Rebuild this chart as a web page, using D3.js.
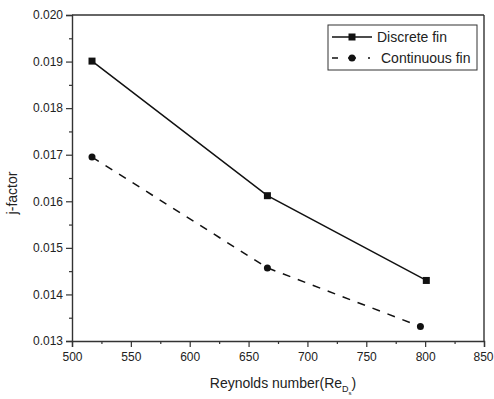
<!DOCTYPE html>
<html>
<head>
<meta charset="utf-8">
<script src="https://cdn.jsdelivr.net/npm/d3@7"></script>
<style>
  body { margin: 0; background: #fff; }
  text { font-family: "Liberation Sans", Arial, sans-serif; fill: #222; }
</style>
</head>
<body>
<div id="viz"></div>
<script>
// data
var seriesNames = ["Discrete fin", "Continuous fin"];
var discreteRe = [517, 666, 801];
var discreteJ = [0.01901, 0.01612, 0.0143];
var continuousRe = [517, 666, 796];
var continuousJ = [0.01695, 0.01457, 0.01331];
var xTicks = [500, 550, 600, 650, 700, 750, 800, 850];
var yTicks = [0.013, 0.014, 0.015, 0.016, 0.017, 0.018, 0.019, 0.020];

var W = 494, H = 399;
var margin = { top: 15, right: 10, bottom: 58, left: 72 },
  width = W - margin.left - margin.right,
  height = H - margin.top - margin.bottom;

var svg = d3.select("#viz").append("svg")
  .attr("width", W).attr("height", H);

var g = svg.append("g")
  .attr("transform", "translate(" + margin.left + "," + margin.top + ")");

var x = d3.scaleLinear().domain([500, 850]).range([0, width]);
var y = d3.scaleLinear().domain([0.013, 0.020]).range([height, 0]);

// minor ticks
var xMinor = d3.range(525, 850, 50);
var yMinor = d3.range(0.0135, 0.0200, 0.001);

g.append("g").attr("transform", "translate(0," + height + ")")
  .call(d3.axisBottom(x).tickValues(xMinor).tickSize(3).tickFormat(""))
  .call(s => s.select(".domain").remove());
g.append("g")
  .call(d3.axisLeft(y).tickValues(yMinor).tickSize(3).tickFormat(""))
  .call(s => s.select(".domain").remove());

var xAxis = g.append("g").attr("transform", "translate(0," + height + ")")
  .call(d3.axisBottom(x).tickValues(xTicks).tickSize(6).tickPadding(5).tickFormat(d3.format("d")));
var yAxis = g.append("g")
  .call(d3.axisLeft(y).tickValues(yTicks).tickSize(6).tickPadding(3).tickFormat(d3.format(".3f")));

[xAxis, yAxis].forEach(function (a) {
  a.selectAll("text").style("font-size", "12px").style("font-family", "Liberation Sans, Arial, sans-serif").attr("fill", "#333");
  a.select(".domain").attr("stroke", "#333").attr("stroke-width", 1.4);
});
g.selectAll(".tick line").attr("stroke", "#333").attr("stroke-width", 1.2);
// keep the last x label inside the window
xAxis.selectAll(".tick text").filter(d => d === 850).attr("dx", "-1");

// frame top/right
g.append("line").attr("x1", 0).attr("x2", width).attr("y1", 0).attr("y2", 0)
  .attr("stroke", "#333").attr("stroke-width", 1.4);
g.append("line").attr("x1", width).attr("x2", width).attr("y1", 0).attr("y2", height)
  .attr("stroke", "#333").attr("stroke-width", 1.4);

// axis titles
var xt = svg.append("text")
  .attr("x", margin.left + width / 2 + 5).attr("y", 388)
  .style("text-anchor", "middle").style("font-size", "14px");
xt.append("tspan").text("Reynolds number(Re");
xt.append("tspan").attr("dy", 4).style("font-size", "9px").text("D");
xt.append("tspan").attr("dy", 3).style("font-size", "6px").text("s");
xt.append("tspan").attr("dy", -7).text(")");

svg.append("text")
  .attr("transform", "translate(17," + (margin.top + height / 2 + 15) + ") rotate(-90)")
  .style("text-anchor", "middle").style("font-size", "14px")
  .text("j-factor");

var line = d3.line().x(d => x(d[0])).y(d => y(d[1]));
var dData = discreteRe.map((r, i) => [r, discreteJ[i]]);
var cData = continuousRe.map((r, i) => [r, continuousJ[i]]);

g.append("path").datum(dData).attr("d", line)
  .attr("fill", "none").attr("stroke", "#111").attr("stroke-width", 1.5);
g.append("path").datum(cData).attr("d", line)
  .attr("fill", "none").attr("stroke", "#111").attr("stroke-width", 1.5)
  .attr("stroke-dasharray", "8,8");

g.selectAll(".sq").data(dData).enter().append("rect")
  .attr("x", d => x(d[0]) - 3.5).attr("y", d => y(d[1]) - 3.5)
  .attr("width", 7).attr("height", 7).attr("fill", "#111");
g.selectAll(".dot").data(cData).enter().append("circle")
  .attr("cx", d => x(d[0])).attr("cy", d => y(d[1])).attr("r", 3.5).attr("fill", "#111");

// legend
var lg = svg.append("g").attr("transform", "translate(328,25)");
lg.append("rect").attr("width", 149).attr("height", 45)
  .attr("fill", "#fff").attr("stroke", "#333").attr("stroke-width", 1);
lg.append("line").attr("x1", 4).attr("x2", 44).attr("y1", 12).attr("y2", 12)
  .attr("stroke", "#111").attr("stroke-width", 1.5);
lg.append("rect").attr("x", 20.5).attr("y", 8.5).attr("width", 7).attr("height", 7).attr("fill", "#111");
lg.append("line").attr("x1", 4).attr("x2", 48).attr("y1", 33).attr("y2", 33)
  .attr("stroke", "#111").attr("stroke-width", 1.5).attr("stroke-dasharray", "6,10,8,12,2,10");
lg.append("circle").attr("cx", 24).attr("cy", 33).attr("r", 3.5).attr("fill", "#111");
lg.selectAll(".lt").data(seriesNames).enter().append("text")
  .attr("x", (d, i) => i === 0 ? 49 : 53).attr("y", (d, i) => 17 + i * 21)
  .style("font-size", "14px").text(d => d);
</script>
</body>
</html>
